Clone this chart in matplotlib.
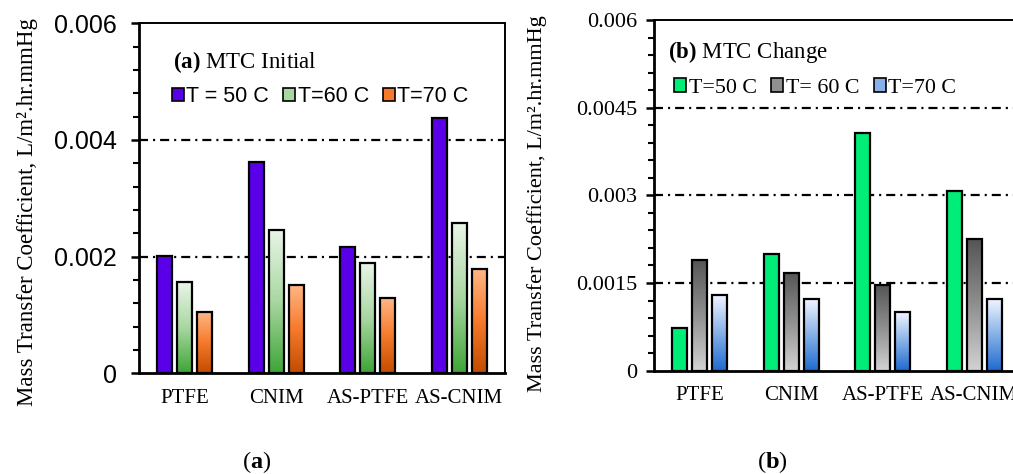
import numpy as np
import matplotlib
matplotlib.use("Agg")
import matplotlib.pyplot as plt
from matplotlib.colors import LinearSegmentedColormap
from matplotlib.patches import Patch

plt.rcParams['mathtext.fontset'] = 'custom'
plt.rcParams['mathtext.rm'] = 'Liberation Serif'
plt.rcParams['mathtext.bf'] = 'Liberation Serif:bold'
plt.rcParams['lines.scale_dashes'] = False

# ---------------- data ----------------
categories = ["PTFE", "CNIM", "AS-PTFE", "AS-CNIM"]

init_labels = ["T = 50 C", "T=60 C", "T=70 C"]
init_50 = [0.00201, 0.00363, 0.00217, 0.00437]
init_60 = [0.00156, 0.00246, 0.00189, 0.00258]
init_70 = [0.00105, 0.00151, 0.00129, 0.00179]
init_yticks = [0, 0.002, 0.004, 0.006]
init_yticklabels = ["0", "0.002", "0.004", "0.006"]

chg_labels = ["T=50 C", "T= 60 C", "T=70 C"]
chg_50 = [0.000725, 0.00200, 0.00406, 0.00308]
chg_60 = [0.00190, 0.00168, 0.00146, 0.00225]
chg_70 = [0.00130, 0.00122, 0.00100, 0.00122]
chg_yticks = [0, 0.0015, 0.003, 0.0045, 0.006]
chg_yticklabels = ["0", "0.0015", "0.003", "0.0045", "0.006"]

ylabel = "Mass Transfer Coefficient, L/m\u00b2.hr.mmHg"

# ---------------- styles ----------------
SERIF = "Liberation Serif"
SANS = "Liberation Sans"
BAR_W = 0.165
OFFS = [-0.22, 0.0, 0.22]
DASH = (0, (6.5, 3.6, 1.5, 3.6))


def draw_panel(ax, series, fills, labels, yticks, yticklabels, minor_step,
               title, tickfont, tickfs, tickpad, legfont, legfs, leg_xy,
               title_xy, ylab_xy, ylab_fs):
    x = np.arange(len(categories))
    for gy in yticks[1:-1]:
        ax.axhline(gy, color='black', lw=1.6, linestyle=DASH, zorder=1)
    for vals, fill, off in zip(series, fills, OFFS):
        if isinstance(fill, str):
            ax.bar(x + off, vals, BAR_W, color=fill, edgecolor='black',
                   linewidth=1.6, zorder=3)
        else:
            cmap = LinearSegmentedColormap.from_list('g', fill[::-1])
            bars = ax.bar(x + off, vals, BAR_W, facecolor='none',
                          edgecolor='black', linewidth=1.6, zorder=4)
            grad = np.linspace(0, 1, 256).reshape(-1, 1)
            for b in bars:
                bx0 = b.get_x()
                im = ax.imshow(grad, cmap=cmap, origin='lower', aspect='auto',
                               extent=[bx0, bx0 + b.get_width(), 0, b.get_height()],
                               interpolation='bicubic', zorder=3)
                im.set_clip_path(b)
    ax.set_xlim(-0.5, 3.5)
    ax.set_ylim(0, yticks[-1])
    ax.set_aspect('auto')
    ax.set_xticks(x)
    ax.set_xticklabels(categories, fontfamily=SERIF, fontsize=15)
    ax.tick_params(axis='x', length=0, pad=11)
    ax.set_yticks(yticks)
    ax.set_yticklabels(yticklabels, fontfamily=tickfont, fontsize=tickfs)
    ax.set_yticks(np.arange(0, yticks[-1] + 1e-9, minor_step), minor=True)
    ax.tick_params(axis='y', which='major', length=6, width=1.8, direction='out', pad=tickpad)
    ax.tick_params(axis='y', which='minor', length=4, width=1.5, direction='out')
    for s in ['left', 'bottom']:
        ax.spines[s].set_linewidth(2.0)
    for s in ['top', 'right']:
        ax.spines[s].set_linewidth(1.4)
    ax.set_ylabel(ylabel, fontfamily=SERIF, fontsize=ylab_fs)
    ax.yaxis.set_label_coords(*ylab_xy)
    ax.yaxis.label.set_verticalalignment('center')
    ax.text(title_xy[0], title_xy[1], title, transform=ax.transAxes,
            fontfamily=SERIF, fontsize=16.5, ha='left', va='center')
    handles = []
    for fill, lab in zip(fills, labels):
        c = fill if isinstance(fill, str) else fill[len(fill) // 2]
        handles.append(Patch(facecolor=c, edgecolor='black', linewidth=1.2, label=lab))
    ax.legend(handles=handles, loc='center left', bbox_to_anchor=leg_xy,
              ncol=3, frameon=False, borderpad=0, borderaxespad=0,
              handlelength=0.55, handleheight=0.55, handletextpad=0.12,
              columnspacing=0.65, prop={'family': legfont, 'size': legfs})


fig = plt.figure(figsize=(10.13, 4.74), dpi=100)
ax1 = fig.add_axes([139 / 1013, 1 - 373.3 / 474, 366 / 1013, 350 / 474])
ax2 = fig.add_axes([654 / 1013, 1 - 370.7 / 474, 366 / 1013, 350.7 / 474])

draw_panel(ax1, [init_50, init_60, init_70],
           ['#5A00E8', ['#EAF5E8', '#A9D7A2', '#3EA536'],
            ['#FFB888', '#F77A2C', '#C24C00']],
           init_labels, init_yticks, init_yticklabels, 0.0004,
           r"$\mathbf{(a)}$ MTC Initial", SANS, 18, 10, SANS, 15.5,
           (0.09, 0.79), (0.093, 0.888), (-0.305, 0.46), 16.5)

draw_panel(ax2, [chg_50, chg_60, chg_70],
           ['#00EE78', ['#555555', '#909090', '#D3D3D3'],
            ['#F0F5FF', '#86B0E6', '#1E6AD0']],
           chg_labels, chg_yticks, chg_yticklabels, 0.0003,
           r"$\mathbf{(b)}$ MTC Change", SERIF, 16, 6, SERIF, 15.8,
           (0.055, 0.806), (0.038, 0.909), (-0.32, 0.476), 16)

fig.text(257 / 1013, 1 - 462 / 474, r"($\mathbf{a}$)", fontfamily=SERIF,
         fontsize=17.5, ha='center', va='center')
fig.text(772 / 1013, 1 - 462 / 474, r"($\mathbf{b}$)", fontfamily=SERIF,
         fontsize=17.5, ha='center', va='center')

fig.savefig("out.png", dpi=100)
